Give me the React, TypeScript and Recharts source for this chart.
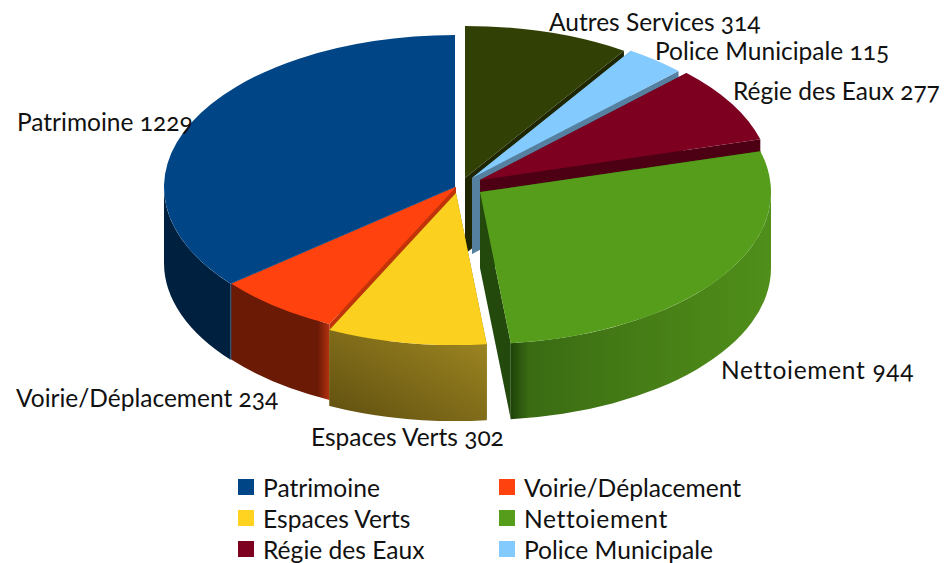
import React from "react";
import { PieChart, Pie, Legend } from "recharts";

const W = 947;
const H = 563;

// drawn back to front, that is why there are two groups
const BACK_NAMES = ["Autres Services", "Police Municipale", "Régie des Eaux", "Nettoiement"];
const BACK_VALUES = [314, 115, 277, 944];
const FRONT_NAMES = ["Patrimoine", "Voirie/Déplacement", "Espaces Verts"];
const FRONT_VALUES = [1229, 234, 302];

// the seventh entry (Autres Services) falls below the picture in the original
const LEGEND_NAMES = [
  "Patrimoine",
  "Voirie/Déplacement",
  "Espaces Verts",
  "Nettoiement",
  "Régie des Eaux",
  "Police Municipale",
];

const TOP_COLORS: Record<string, string> = {
  Patrimoine: "#004586",
  "Voirie/Déplacement": "#ff420e",
  "Espaces Verts": "#fbd01f",
  Nettoiement: "#579d1c",
  "Régie des Eaux": "#7e0021",
  "Police Municipale": "#83caff",
  "Autres Services": "#314004",
};
const LEGEND_COLORS: Record<string, string> = { ...TOP_COLORS, "Espaces Verts": "#ffd320" };

const CUT_COLORS: Record<string, string> = {
  Patrimoine: "#003266",
  "Voirie/Déplacement": "#c2330a",
  "Espaces Verts": "#8a7415",
  Nettoiement: "#234a0c",
  "Régie des Eaux": "#4d0014",
  "Police Municipale": "#55809f",
  "Autres Services": "#1d2600",
};

const WALL_STOPS: Record<string, [number, string][]> = {
  Patrimoine: [[0, "#00203f"], [1, "#00203f"]],
  "Voirie/Déplacement": [[0, "#6a1a05"], [0.88, "#6a1a05"], [1, "#b53210"]],
  "Espaces Verts": [[0, "#5f4f10"], [1, "#a08822"]],
  Nettoiement: [[0, "#1f4309"], [0.07, "#3a6b13"], [0.5, "#467d16"], [1, "#4f8f1a"]],
  "Régie des Eaux": [[0, "#4d0014"], [1, "#4d0014"]],
  "Police Municipale": [[0, "#55809f"], [1, "#55809f"]],
  "Autres Services": [[0, "#1d2600"], [1, "#1d2600"]],
};

// how far each slice is pulled out of the pie
const OFFSETS: Record<string, [number, number]> = {
  Patrimoine: [-5, -1],
  "Voirie/Déplacement": [-4, -1],
  "Espaces Verts": [-4, 5],
  Nettoiement: [20, 4],
  "Régie des Eaux": [20, -8],
  "Police Municipale": [12, -10],
  "Autres Services": [5, -10],
};

const LABEL_POS: Record<string, [number, number]> = {
  Patrimoine: [17, 131],
  "Voirie/Déplacement": [16, 407],
  "Espaces Verts": [311, 446],
  Nettoiement: [721, 379],
  "Régie des Eaux": [733, 100],
  "Police Municipale": [655, 60],
  "Autres Services": [549, 31],
};

const CX = 460;
const CY = 188;
const RX = 291;
const RY = 152;
const DEPTH = 76;
const FONT = "Lato, 'Open Sans', sans-serif";

const backTable = BACK_NAMES.map((name, i) => ({ name, value: BACK_VALUES[i] }));
const frontTable = FRONT_NAMES.map((name, i) => ({ name, value: FRONT_VALUES[i] }));
const sum = (list: number[]) => list.reduce((a, b) => a + b, 0);
const total = sum(BACK_VALUES) + sum(FRONT_VALUES);
const backEnd = 90 - (sum(BACK_VALUES) / total) * 360;
const frontEnd = 90 + (sum(FRONT_VALUES) / total) * 360;

const rad = (a: number) => (a * Math.PI) / 180;

const Slice3D = (props: any) => {
  const name: string = props.name ?? props.payload?.name;
  const [dx, dy] = OFFSETS[name];
  const cx = props.cx + dx;
  const cy = props.cy + dy;
  const a1 = Math.min(props.startAngle, props.endAngle);
  const a2 = Math.max(props.startAngle, props.endAngle);
  const px = (a: number) => cx + RX * Math.cos(rad(a));
  const py = (a: number) => cy - RY * Math.sin(rad(a));
  const arc = (to: number, big: boolean, sweep: number, drop = 0) =>
    `A${RX} ${RY} 0 ${big ? 1 : 0} ${sweep} ${px(to)} ${py(to) + drop}`;

  const top = `M${cx} ${cy}L${px(a1)} ${py(a1)}${arc(a2, a2 - a1 > 180, 0)}Z`;
  const cut = (a: number) =>
    `M${cx} ${cy}L${px(a)} ${py(a)}L${px(a)} ${py(a) + DEPTH}L${cx} ${cy + DEPTH}Z`;

  // the outer wall only shows on the lower half of the ellipse
  let wall = "";
  for (const [lo, hi] of [[-180, 0], [180, 360]]) {
    const s = Math.max(a1, lo);
    const e = Math.min(a2, hi);
    if (e > s) {
      wall =
        `M${px(s)} ${py(s)}${arc(e, e - s > 180, 0)}` +
        `L${px(e)} ${py(e) + DEPTH}${arc(s, e - s > 180, 1, DEPTH)}Z`;
    }
  }
  const gradId = `wall-${name.replace(/[^A-Za-z]/g, "")}`;
  const diagonal = name === "Espaces Verts";
  return (
    <g>
      <defs>
        <linearGradient id={gradId} x1="0" y1={diagonal ? "1" : "0"} x2="1" y2="0">
          {WALL_STOPS[name].map(([o, c]) => (
            <stop key={o} offset={o} stopColor={c} />
          ))}
        </linearGradient>
      </defs>
      <path d={cut(a1)} fill={CUT_COLORS[name]} />
      <path d={cut(a2)} fill={CUT_COLORS[name]} />
      {wall && <path d={wall} fill={`url(#${gradId})`} />}
      <path d={top} fill={TOP_COLORS[name]} />
    </g>
  );
};

const renderLabel = (props: any) => {
  const [x, y] = LABEL_POS[props.name];
  return (
    <text
      x={x}
      y={y}
      fontFamily={FONT}
      fontSize={24.5}
      fill="#111"
      letterSpacing={props.name === "Nettoiement" ? 0.7 : 0}
      style={{ fontVariantNumeric: "oldstyle-nums" }}
    >
      {`${props.name} ${props.value}`}
    </text>
  );
};

const renderLegend = () => (
  <div style={{ fontFamily: FONT, fontSize: 24.6, color: "#111", position: "relative", width: W, height: 90 }}>
    {LEGEND_NAMES.map((name, i) => (
      <div
        key={name}
        style={{
          position: "absolute",
          left: i % 2 ? 499 : 238,
          top: Math.floor(i / 2) * 31,
          display: "flex",
          alignItems: "center",
          height: 30,
          whiteSpace: "nowrap",
          letterSpacing: name === "Nettoiement" ? 0.6 : 0,
        }}
      >
        <span style={{ width: 16, height: 16, background: LEGEND_COLORS[name], marginRight: 9 }} />
        {name}
      </div>
    ))}
  </div>
);

export default function App() {
  return (
    <div style={{ position: "absolute", left: 0, top: 0, width: W, height: H, overflow: "hidden", background: "#fff" }}>
      <PieChart width={W} height={H} margin={{ top: 0, right: 0, bottom: 0, left: 0 }}>
        <Pie
          data={backTable}
          dataKey="value"
          nameKey="name"
          cx={CX}
          cy={CY}
          outerRadius={RX}
          startAngle={90}
          endAngle={backEnd}
          stroke="none"
          shape={Slice3D}
          label={renderLabel}
          labelLine={false}
          isAnimationActive={false}
        />
        <Pie
          data={frontTable}
          dataKey="value"
          nameKey="name"
          cx={CX}
          cy={CY}
          outerRadius={RX}
          startAngle={90}
          endAngle={frontEnd}
          stroke="none"
          shape={Slice3D}
          label={renderLabel}
          labelLine={false}
          isAnimationActive={false}
        />
        <Legend content={renderLegend} wrapperStyle={{ left: 0, top: 472, width: W }} />
      </PieChart>
    </div>
  );
}
